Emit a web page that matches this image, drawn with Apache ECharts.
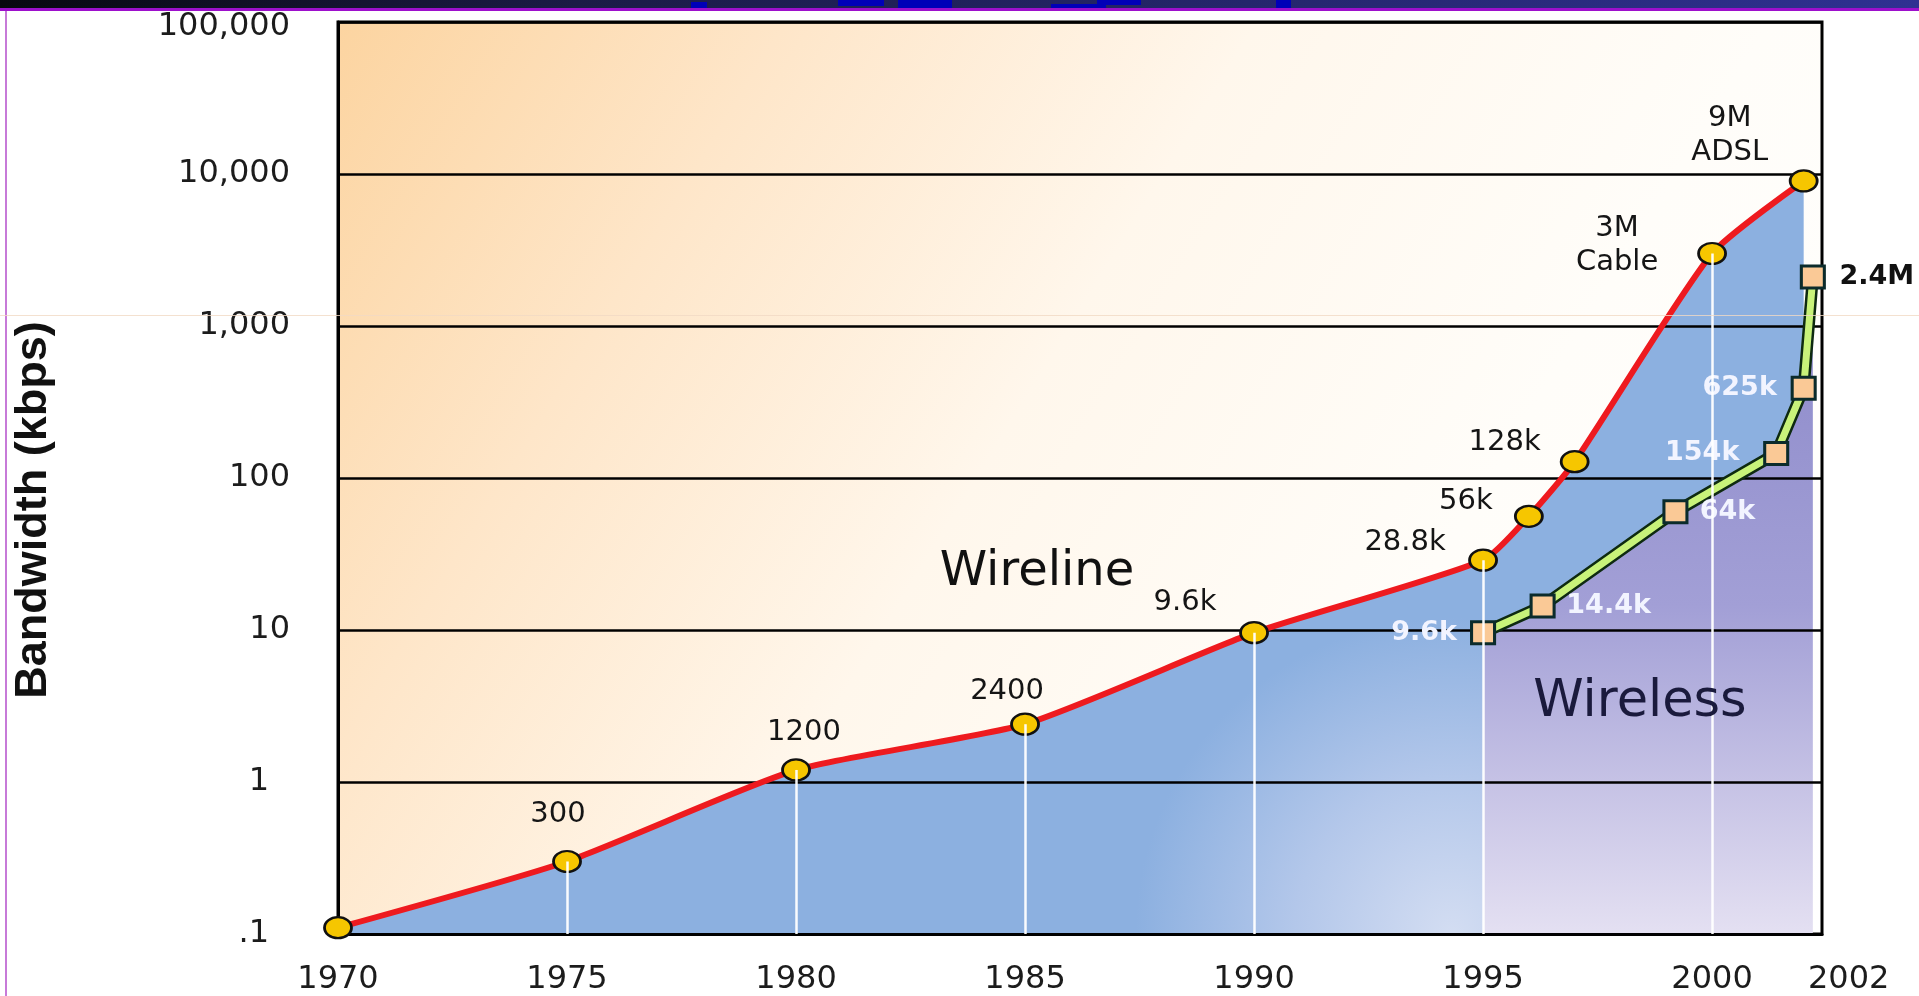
<!DOCTYPE html>
<html>
<head>
<meta charset="utf-8">
<title>Bandwidth (kbps)</title>
<script src="https://cdn.jsdelivr.net/npm/echarts@6.0.0/dist/echarts.min.js"></script>
<style>
  html, body { margin: 0; padding: 0; background: #fff; }
  #chart { width: 1919px; height: 996px; }
</style>
</head>
<body>
<div id="chart"></div>
<script>
// 有线带宽 (kbps)
var wireYears = [1970, 1975, 1980, 1985, 1990, 1995, 1996, 1997, 2000, 2002];
var wireKbps = [0.11, 0.3, 1.2, 2.4, 9.6, 28.8, 56, 128, 3000, 9000];
var wireLabels = ['', '300', '1200', '2400', '9.6k', '28.8k', '56k', '128k', '3M\nCable', '9M\nADSL'];

// 无线带宽 (kbps)
var wlessYears = [1995, 1996.3, 1999.2, 2001.4, 2002, 2002.2];
var wlessKbps = [9.6, 14.4, 60, 145, 390, 2100];
var wlessLabels = ['9.6k', '14.4k', '64k', '154k', '625k', '2.4M'];

// 白色竖线对应的年份
var dropYears = [1975, 1980, 1985, 1990, 1995, 2000];

// 坐标轴刻度
var xTicks = [1970, 1975, 1980, 1985, 1990, 1995, 2000, 2002];
var yTickLabels = ['.1', '1', '10', '100', '1,000', '10,000', '100,000'];

// 标签相对于点的偏移 (px)
var wireLabelOffset = [[0, 0], [-9, -47], [8, -37], [-18, -33], [-69, -30], [-78, -18], [-63, -15], [-70, -19], [-95, -8], [-74, -45]];
var wlessLabelOffset = [[-59, 0], [66, 0], [52, 0], [-74, 0], [-64, 0], [64, 0]];

var chart = echarts.init(document.getElementById('chart'));

var ellipse = 'path://M0,50 A50,50 0 1,1 100,50 A50,50 0 1,1 0,50 Z';

var wirePoints = wireYears.map(function (y, i) { return [y, wireKbps[i]]; });
var wlessPoints = wlessYears.map(function (y, i) { return [y, wlessKbps[i]]; });

var wireData = wirePoints.map(function (p, i) {
  return {
    value: p,
    label: {
      show: wireLabels[i] !== '',
      formatter: wireLabels[i],
      position: 'inside',
      offset: wireLabelOffset[i]
    }
  };
});

var wlessData = wlessPoints.map(function (p, i) {
  var last = i === wlessPoints.length - 1;
  return {
    value: p,
    label: {
      show: true,
      formatter: wlessLabels[i],
      position: 'inside',
      offset: wlessLabelOffset[i],
      color: last ? '#111' : '#f2f4ff',
      fontSize: 27
    }
  };
});

// 竖线: 从点到底部
var drops = dropYears.map(function (y) {
  var v = wireKbps[wireYears.indexOf(y)];
  return [{ coord: [y, v] }, { coord: [y, 0.1] }];
});

var labelFont = { fontSize: 32, fontFamily: 'DejaVu Sans', color: '#1c1c1c' };

var option = {
  animation: false,
  grid: {
    left: 338,
    right: 97,
    top: 22,
    bottom: 62,
    show: true,
    borderColor: '#000',
    borderWidth: 3,
    outerBoundsMode: 'none',
    backgroundColor: new echarts.graphic.LinearGradient(0, 0, 1, 1, [
      { offset: 0, color: '#fcd4a0' },
      { offset: 0.22, color: '#fee6c9' },
      { offset: 0.45, color: '#fff7ec' },
      { offset: 0.7, color: '#fffdf9' },
      { offset: 1, color: '#ffffff' }
    ])
  },
  xAxis: {
    type: 'value',
    min: 1970,
    max: 2002.4,
    z: 2,
    axisLine: { show: true, lineStyle: { color: '#000', width: 3 } },
    axisTick: { show: false },
    splitLine: { show: false },
    axisLabel: {
      customValues: xTicks,
      margin: 30,
      fontSize: 32,
      fontFamily: 'DejaVu Sans',
      color: '#1c1c1c',
      formatter: function (v) {
        // 2002 标签向右挪开, 避免与 2000 重叠
        return v === 2002 ? '{last|2002}' : String(v);
      },
      rich: {
        last: Object.assign({ padding: [0, 0, 0, 90] }, labelFont)
      }
    }
  },
  yAxis: {
    type: 'log',
    logBase: 10,
    min: 0.1,
    max: 100000,
    z: 1.5,
    axisLine: { show: true, lineStyle: { color: '#000', width: 3 } },
    axisTick: { show: false },
    splitLine: { show: true, lineStyle: { color: '#000', width: 2.5 } },
    axisLabel: {
      margin: 48,
      fontSize: 32,
      fontFamily: 'DejaVu Sans',
      color: '#1c1c1c',
      formatter: function (v) {
        var i = Math.round(Math.log10(v)) + 1;
        if (i <= 1) return '{s|' + yTickLabels[i] + '}';
        if (i === yTickLabels.length - 1) return '{t|' + yTickLabels[i] + '}';
        return yTickLabels[i];
      },
      rich: {
        s: Object.assign({ padding: [0, 21, 0, 0] }, labelFont),
        t: Object.assign({ padding: [10, 0, 0, 0] }, labelFont)
      }
    }
  },
  series: [
    {
      // 有线区域 (蓝色)
      name: 'wireArea',
      type: 'line',
      data: wirePoints,
      smooth: 0.2,
      symbol: 'none',
      silent: true,
      z: 1,
      lineStyle: { width: 0 },
      areaStyle: {
        origin: 'start',
        opacity: 1,
        color: new echarts.graphic.RadialGradient(0.76, 1, 0.42, [
          { offset: 0, color: '#d3ddf2' },
          { offset: 0.5, color: '#b3c7ea' },
          { offset: 1, color: '#8cb0e0' }
        ])
      }
    },
    {
      // 无线区域 (紫色)
      name: 'wlessArea',
      type: 'line',
      data: wlessPoints,
      symbol: 'none',
      silent: true,
      z: 1.2,
      lineStyle: { width: 0 },
      areaStyle: {
        origin: 'start',
        opacity: 1,
        color: new echarts.graphic.LinearGradient(0, 0, 0, 1, [
          { offset: 0, color: '#8c89c9' },
          { offset: 0.5, color: '#a29fd6' },
          { offset: 1, color: '#e4e0f2' }
        ])
      }
    },
    {
      // 白色竖线
      name: 'drops',
      type: 'line',
      data: wirePoints,
      symbol: 'none',
      silent: true,
      z: 2,
      lineStyle: { opacity: 0 },
      markLine: {
        silent: true,
        symbol: 'none',
        label: { show: false },
        lineStyle: { color: 'rgba(255,255,255,0.95)', width: 2.5, type: 'solid' },
        data: drops
      }
    },
    {
      name: 'Wireline',
      type: 'line',
      data: wireData,
      smooth: 0.2,
      z: 3,
      symbol: ellipse,
      symbolSize: [27, 21],
      lineStyle: { color: '#ee1a1f', width: 6 },
      itemStyle: { color: '#f6c600', borderColor: '#111', borderWidth: 2.5 },
      label: {
        fontSize: 29,
        fontFamily: 'DejaVu Sans',
        color: '#151515',
        lineHeight: 34,
        align: 'center'
      }
    },
    {
      // 绿线的深色描边
      name: 'wlessOutline',
      type: 'line',
      data: wlessPoints,
      symbol: 'none',
      silent: true,
      z: 3,
      lineStyle: { color: '#0e2a10', width: 12 }
    },
    {
      name: 'Wireless',
      type: 'line',
      data: wlessData,
      z: 4,
      symbol: 'rect',
      symbolSize: [23, 22],
      lineStyle: { color: '#c8f27a', width: 7 },
      itemStyle: { color: '#fac996', borderColor: '#0b2b2b', borderWidth: 3 },
      label: {
        fontFamily: 'DejaVu Sans',
        fontWeight: 'bold',
        align: 'center'
      }
    }
  ],
  graphic: [
    {
      // 顶部深色条
      type: 'rect',
      z: 20,
      shape: { x: 0, y: 0, width: 1919, height: 8 },
      style: {
        fill: new echarts.graphic.LinearGradient(0, 0, 1, 0, [
          { offset: 0, color: '#08080f' },
          { offset: 0.3, color: '#1b1b46' },
          { offset: 1, color: '#2f3192' }
        ])
      }
    },
    { type: 'rect', z: 21, shape: { x: 691, y: 2, width: 16, height: 6 }, style: { fill: '#0000b8' } },
    { type: 'rect', z: 21, shape: { x: 838, y: 0, width: 46, height: 6 }, style: { fill: '#0000b8' } },
    { type: 'rect', z: 21, shape: { x: 898, y: 0, width: 54, height: 8 }, style: { fill: '#0000b8' } },
    { type: 'rect', z: 21, shape: { x: 1051, y: 4, width: 55, height: 4 }, style: { fill: '#0000b8' } },
    { type: 'rect', z: 21, shape: { x: 1097, y: 0, width: 44, height: 5 }, style: { fill: '#0000b8' } },
    { type: 'rect', z: 21, shape: { x: 1276, y: 0, width: 15, height: 8 }, style: { fill: '#0000b8' } },
    { type: 'rect', z: 20, shape: { x: 0, y: 8, width: 1919, height: 3 }, style: { fill: '#9d10cc' } },
    // 左侧紫色细线
    { type: 'rect', z: 20, shape: { x: 5, y: 11, width: 2, height: 985 }, style: { fill: '#c77ad8' } },
    // 淡色横线
    { type: 'rect', z: 20, shape: { x: 0, y: 315, width: 1919, height: 1 }, style: { fill: '#f1d9c4', opacity: 0.8 } },
    {
      type: 'text',
      z: 20,
      x: 34,
      y: 510,
      rotation: Math.PI / 2,
      style: {
        text: 'Bandwidth (kbps)',
        fontSize: 45,
        fontWeight: 'bold',
        fontFamily: 'Liberation Sans',
        fill: '#111',
        align: 'center',
        verticalAlign: 'middle'
      }
    },
    {
      type: 'text',
      z: 20,
      x: 1037,
      y: 573,
      style: {
        text: 'Wireline',
        fontSize: 48,
        fontFamily: 'DejaVu Sans',
        fill: '#111',
        align: 'center',
        verticalAlign: 'middle'
      }
    },
    {
      type: 'text',
      z: 20,
      x: 1640,
      y: 703,
      style: {
        text: 'Wireless',
        fontSize: 51,
        fontFamily: 'DejaVu Sans',
        fill: '#1a1a3c',
        align: 'center',
        verticalAlign: 'middle'
      }
    }
  ]
};

chart.setOption(option);
</script>
</body>
</html>
